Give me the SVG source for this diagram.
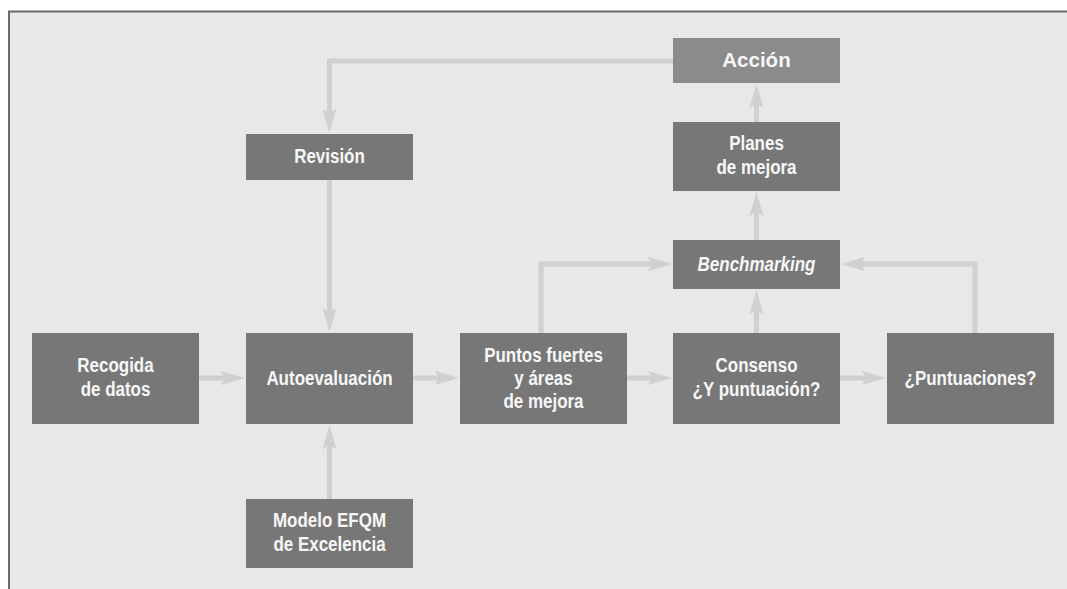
<svg xmlns="http://www.w3.org/2000/svg" width="1067" height="589" viewBox="0 0 1067 589">
<defs>
<style>
.bg{fill:#e8e8e8}
.frame{stroke:#6a6a6a;stroke-width:2;fill:none}
.box{fill:#777777}
.box2{fill:#8b8b8b}
.t{font-family:"Liberation Sans",Arial,sans-serif;font-weight:bold;font-size:19.5px;fill:#f7f7f7;text-anchor:middle}
.ti{font-style:italic}
.big{font-size:20.5px}
.conn{fill:none;stroke:#d0d0d0;stroke-width:5;stroke-linejoin:miter}
</style>
<marker id="ah" viewBox="0 0 24 14" refX="4" refY="7" markerWidth="24" markerHeight="14" markerUnits="userSpaceOnUse" orient="auto">
<path d="M0,0 L24,7 L0,14 L4,7 Z" fill="#d0d0d0"/>
</marker>
</defs>
<rect class="bg" x="9" y="11" width="1058" height="578"/>
<path class="frame" d="M9,589 V11.5 H1067"/>

<g id="connectors">
<path class="conn" marker-end="url(#ah)" d="M199,378 H225"/>
<path class="conn" marker-end="url(#ah)" d="M413,378 H439"/>
<path class="conn" marker-end="url(#ah)" d="M627,378 H652"/>
<path class="conn" marker-end="url(#ah)" d="M840,378 H866"/>
<path class="conn" marker-end="url(#ah)" d="M329.5,499 V445"/>
<path class="conn" marker-end="url(#ah)" d="M329.5,180 V312"/>
<path class="conn" marker-end="url(#ah)" d="M673,61 H329.5 V113"/>
<path class="conn" marker-end="url(#ah)" d="M756.5,122 V104"/>
<path class="conn" marker-end="url(#ah)" d="M756.5,240 V212"/>
<path class="conn" marker-end="url(#ah)" d="M756.5,333 V310"/>
<path class="conn" marker-end="url(#ah)" d="M541,333 V264 H652"/>
<path class="conn" marker-end="url(#ah)" d="M975,333 V264 H861"/>
</g>

<g id="recogida">
<rect class="box" x="32" y="333" width="167" height="91"/>
<g transform="translate(115.5,0) scale(0.87,1)"><text class="t" x="0" y="372">Recogida</text><text class="t" x="0" y="396">de datos</text></g>
</g>
<g id="autoevaluacion">
<rect class="box" x="246" y="333" width="167" height="91"/>
<g transform="translate(329.5,0) scale(0.87,1)"><text class="t" x="0" y="385">Autoevaluación</text></g>
</g>
<g id="puntos">
<rect class="box" x="460" y="333" width="167" height="91"/>
<g transform="translate(543.5,0) scale(0.87,1)"><text class="t" x="0" y="362">Puntos fuertes</text><text class="t" x="0" y="385">y áreas</text><text class="t" x="0" y="408">de mejora</text></g>
</g>
<g id="consenso">
<rect class="box" x="673" y="333" width="167" height="91"/>
<g transform="translate(756.5,0) scale(0.87,1)"><text class="t" x="0" y="372">Consenso</text><text class="t" x="0" y="396">¿Y puntuación?</text></g>
</g>
<g id="puntuaciones">
<rect class="box" x="887" y="333" width="167" height="91"/>
<g transform="translate(970.5,0) scale(0.87,1)"><text class="t" x="0" y="385">¿Puntuaciones?</text></g>
</g>
<g id="revision">
<rect class="box" x="246" y="134" width="167" height="46"/>
<g transform="translate(329.5,0) scale(0.87,1)"><text class="t" x="0" y="163.5">Revisión</text></g>
</g>
<g id="accion">
<rect class="box2" x="673" y="38" width="167" height="45"/>
<text class="t big" x="756.5" y="67">Acción</text>
</g>
<g id="planes">
<rect class="box" x="673" y="122" width="167" height="69"/>
<g transform="translate(756.5,0) scale(0.87,1)"><text class="t" x="0" y="150">Planes</text><text class="t" x="0" y="174">de mejora</text></g>
</g>
<g id="benchmarking">
<rect class="box" x="673" y="240" width="167" height="49"/>
<g transform="translate(756.5,0) scale(0.87,1)"><text class="t ti" x="0" y="271.5">Benchmarking</text></g>
</g>
<g id="modelo">
<rect class="box" x="246" y="499" width="167" height="69"/>
<g transform="translate(329.5,0) scale(0.87,1)"><text class="t" x="0" y="527">Modelo EFQM</text><text class="t" x="0" y="551">de Excelencia</text></g>
</g>
</svg>
